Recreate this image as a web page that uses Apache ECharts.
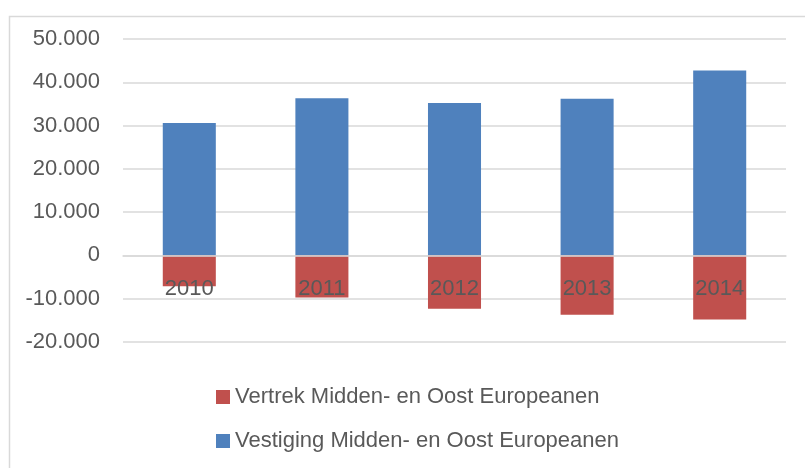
<!DOCTYPE html>
<html>
<head>
    <meta charset="UTF-8">
    <title>Vestiging en vertrek Midden- en Oost Europeanen</title>
    <script src="https://cdn.jsdelivr.net/npm/echarts@6/dist/echarts.min.js"></script>
</head>
<body style="margin:0">
    <div id="chart" style="width: 805px; height: 468px;"></div>

    <script type="text/javascript">
        // gegevens
        var jaren = ['2010', '2011', '2012', '2013', '2014'];
        var vestiging = [30600, 36300, 35200, 36200, 42700];
        var vertrek = [-7100, -9700, -12300, -13700, -14800];

        var tekstKleur = '#595959';
        var lijnKleur = '#D9D9D9';
        var lettertype = 'Liberation Sans';

        var yMin = -20000, yMax = 50000;
        var gridTop = 39, gridBottom = 126;

        function puntNotatie(v) {
            var s = String(Math.abs(v)).replace(/\B(?=(\d{3})+(?!\d))/g, '.');
            return (v < 0 ? '-' : '') + s;
        }

        // x-as op de nullijn leggen (onZero werkt hier niet, dus via offset)
        var gridHoogte = 468 - gridTop - gridBottom;
        var nulOffset = -gridHoogte * (0 - yMin) / (yMax - yMin);

        var myChart = echarts.init(document.getElementById('chart'));

        var option = {
            animation: false,
            textStyle: { fontFamily: lettertype },
            graphic: [{
                type: 'rect',
                shape: { x: 9.5, y: 16.5, width: 900, height: 500 },
                style: { fill: 'none', stroke: lijnKleur, lineWidth: 1.5 }
            }],
            grid: { left: 123, right: 19, top: gridTop, bottom: gridBottom },
            legend: {
                orient: 'vertical',
                left: 211,
                top: 381,
                itemWidth: 14,
                itemHeight: 14,
                itemGap: 22,
                icon: 'rect',
                textStyle: { color: tekstKleur, fontSize: 22, fontFamily: lettertype },
                data: ['Vertrek Midden- en Oost Europeanen', 'Vestiging Midden- en Oost Europeanen']
            },
            xAxis: {
                type: 'category',
                data: jaren,
                position: 'bottom',
                offset: nulOffset,
                z: 10,
                axisLine: { onZero: false, lineStyle: { color: lijnKleur, width: 1.5 } },
                axisTick: { show: false },
                axisLabel: { color: tekstKleur, fontSize: 22, margin: 23 }
            },
            yAxis: {
                type: 'value',
                min: yMin,
                max: yMax,
                interval: 10000,
                axisLine: { show: false },
                axisTick: { show: false },
                splitLine: { lineStyle: { color: lijnKleur, width: 1.5 } },
                axisLabel: { color: tekstKleur, fontSize: 22, margin: 23, formatter: puntNotatie }
            },
            series: [
                {
                    name: 'Vestiging Midden- en Oost Europeanen',
                    type: 'bar',
                    stack: 'totaal',
                    barWidth: '40%',
                    data: vestiging,
                    itemStyle: { color: '#4F81BD' }
                },
                {
                    name: 'Vertrek Midden- en Oost Europeanen',
                    type: 'bar',
                    stack: 'totaal',
                    barWidth: '40%',
                    data: vertrek,
                    itemStyle: { color: '#C0504D' }
                }
            ]
        };

        myChart.setOption(option);
    </script>
</body>
</html>
